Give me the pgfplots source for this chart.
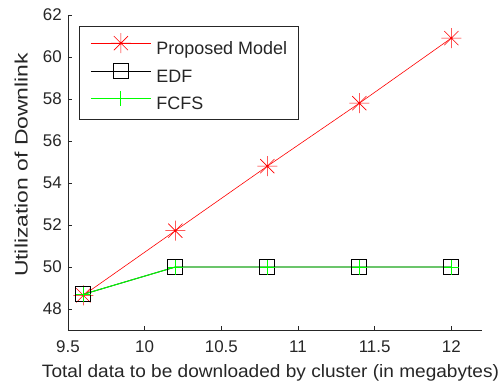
\documentclass[border=0pt]{standalone}
\usepackage{graphicx}
\usepackage{fontspec}
\setmainfont{Liberation Sans}
\usepackage{pgfplots}
\pgfplotsset{compat=1.18}
\pgfdeclareplotmark{mstar}{%
  \pgfpathmoveto{\pgfqpoint{-\pgfplotmarksize}{0pt}}\pgfpathlineto{\pgfqpoint{\pgfplotmarksize}{0pt}}%
  \pgfpathmoveto{\pgfqpoint{0pt}{-\pgfplotmarksize}}\pgfpathlineto{\pgfqpoint{0pt}{\pgfplotmarksize}}%
  \pgfpathmoveto{\pgfqpoint{-0.707\pgfplotmarksize}{-0.707\pgfplotmarksize}}\pgfpathlineto{\pgfqpoint{0.707\pgfplotmarksize}{0.707\pgfplotmarksize}}%
  \pgfpathmoveto{\pgfqpoint{-0.707\pgfplotmarksize}{0.707\pgfplotmarksize}}\pgfpathlineto{\pgfqpoint{0.707\pgfplotmarksize}{-0.707\pgfplotmarksize}}%
  \pgfusepathqstroke}
\begin{document}
\begin{tikzpicture}
\begin{axis}[
  scale only axis,
  width=414bp, height=315bp,
  xmin=9.5, xmax=12.2, ymin=47, ymax=62,
  xtick={9.5,10,10.5,11,11.5,12},
  ytick={48,50,52,54,56,58,60,62},
  xticklabels={9.5,10,10.5,11,11.5,12},
  axis x line*=bottom, axis y line*=left,
  axis line style={black!85, line width=0.9pt, -},
  tick align=inside, major tick length=4bp,
  tick style={black!85, line width=0.7pt},
  /pgf/number format/assume math mode=true,
  ticklabel style={font=\fontsize{17}{19}\selectfont, text=black!85},
  xticklabel style={anchor=base, yshift=-22bp},
  yticklabel style={anchor=east, inner sep=0pt, xshift=-6bp},
  xlabel={\resizebox{457bp}{\height}{Total data to be downloaded by cluster (in megabytes)}},
  ylabel={\resizebox{224bp}{\height}{Utilization of Downlink}},
  xlabel style={font=\fontsize{18}{20}\selectfont, text=black!85, at={(axis description cs:0.5,0)}, anchor=base, yshift=-47bp, xshift=-4.5bp, inner sep=0pt},
  ylabel style={font=\fontsize{18}{20}\selectfont, text=black!85, at={(axis description cs:-0.0966,0.524)}, anchor=south, inner sep=0pt},
  legend style={at={(axis description cs:0,1)}, xshift=11bp, yshift=-11bp, anchor=north west,
    draw=black!85, line width=0.9pt, font=\fontsize{18}{20}\selectfont, text=black!85,
    inner xsep=11bp, inner ysep=6.7bp, row sep=6.4bp, column sep=0pt,
    nodes={inner sep=0pt, text height=12bp, text depth=3bp},
    cells={anchor=west}},
  legend cell align=left,
  legend image code/.code={%
    \draw[#1, mark repeat=2, mark phase=2] plot coordinates {(0bp,6.5bp) (30bp,6.5bp) (60bp,6.5bp)};},
]
\addplot[red, line width=0.6pt, mark=mstar, mark size=10bp, mark options={line width=0.6pt}]
  coordinates {(9.6,48.65) (10.2,51.73) (10.8,54.8) (11.4,57.8) (12,60.9)};
\addlegendentry{\hspace{5bp}Proposed Model\hspace{7bp}}
\addplot[black, line width=0.8pt, mark=square, mark size=7.5bp, mark options={line width=1pt}]
  coordinates {(9.6,48.7) (10.2,50) (10.8,50) (11.4,50) (12,50)};
\addlegendentry{\hspace{5bp}EDF}
\addplot[green, line width=1pt, mark=+, mark size=7.5bp, mark options={line width=1pt}]
  coordinates {(9.6,48.7) (10.2,50) (10.8,50) (11.4,50) (12,50)};
\addlegendentry{\hspace{5bp}FCFS}
\end{axis}
\pgfresetboundingbox
\path (current axis.south west) ++(-68bp,-58bp) rectangle ++(502bp,388bp);
\end{tikzpicture}
\end{document}
